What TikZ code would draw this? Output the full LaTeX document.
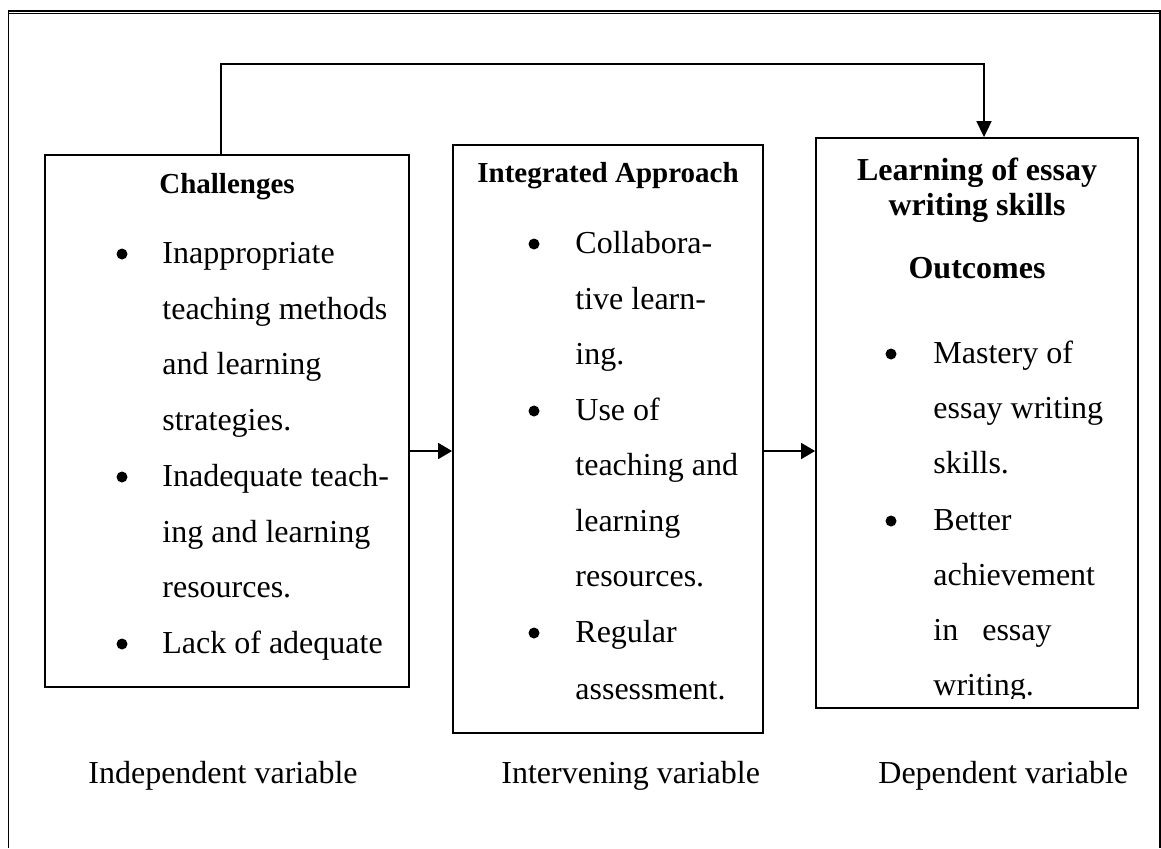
\documentclass[tikz,border=0pt]{standalone}
\usepackage{fontspec}
\setmainfont{Liberation Serif}
\usetikzlibrary{arrows.meta}
\begin{document}
\begin{tikzpicture}[x=0.5pt,y=-0.5pt,
  box/.style={draw, line width=0.9pt, inner sep=0pt},
  conn/.style={line width=0.8pt},
  arr/.style={conn, -{Triangle[length=7pt,width=8pt]}},
  txt/.style={anchor=mid west, inner sep=0pt, yshift=-3pt, font=\fontsize{16}{19}\selectfont},
  blt/.style={circle, fill, inner sep=0pt, yshift=-3pt, minimum size=5.5pt},
  hds/.style={anchor=mid, inner sep=0pt, yshift=-3pt, font=\bfseries\fontsize{14.5}{17}\selectfont},
  hdl/.style={anchor=mid, inner sep=0pt, yshift=-3pt, font=\bfseries\fontsize{16}{19}\selectfont},
  lbl/.style={anchor=mid west, inner sep=0pt, yshift=-3pt, font=\fontsize{16}{19}\selectfont},
]
\useasboundingbox (0,0) rectangle (1161,848);
% outer frame
\draw[line width=1pt] (8,11) -- (1161,11);
\draw[line width=0.5pt] (8,13.8) -- (1161,13.8);
\draw[line width=0.7pt] (8.5,11) -- (8.5,848);
\draw[line width=0.7pt] (1160,11) -- (1160,848);

% boxes
\node[box, minimum width=182pt, minimum height=266pt] (L) at (227,421) {};
\node[box, minimum width=155pt, minimum height=294pt] (M) at (608,439) {};
\node[box, minimum width=161pt, minimum height=285pt] (R) at (977,423) {};

% left box text
\node[hds] (lh) at (227,183) {Challenges};
\node[blt] (lb1) at (122,248) {};
\node[txt] (l1) at (162,253) {Inappropriate};
\node[txt] (l2) at (162,309) {teaching methods};
\node[txt] (l3) at (162,364) {and learning};
\node[txt] (l4) at (162,420) {strategies.};
\node[blt] (lb2) at (122,471) {};
\node[txt] (l5) at (162,476) {Inadequate teach-};
\node[txt] (l6) at (162,532) {ing and learning};
\node[txt] (l7) at (162,587) {resources.};
\node[blt] (lb3) at (122,638) {};
\node[txt] (l8) at (162,643) {Lack of adequate};

% middle box text
\node[hds] (mh) at (608,172) {Integrated Approach};
\node[blt] (mb1) at (534,238) {};
\node[txt] (m1) at (575,243) {Collabora-};
\node[txt] (m2) at (575,299) {tive learn-};
\node[txt] (m3) at (575,354) {ing.};
\node[blt] (mb2) at (534,405) {};
\node[txt] (m4) at (575,410) {Use of};
\node[txt] (m5) at (575,465) {teaching and};
\node[txt] (m6) at (575,521) {learning};
\node[txt] (m7) at (575,576) {resources.};
\node[blt] (mb3) at (534,627) {};
\node[txt] (m8) at (575,632) {Regular};
\node[txt] (m9) at (575,689) {assessment.};

% right box text
\node[hdl] (rh1) at (977,170) {Learning of essay};
\node[hdl] (rh2) at (977,205) {writing skills};
\node[hdl] (rh3) at (977,268) {Outcomes};
\begin{scope}
\clip (816,138) rectangle (1138,698);
\node[blt] (rb1) at (891,348) {};
\node[txt] (r1) at (933,353) {Mastery of};
\node[txt] (r2) at (933,408) {essay writing};
\node[txt] (r3) at (933,463) {skills.};
\node[blt] (rb2) at (891,515) {};
\node[txt] (r4) at (933,520) {Better};
\node[txt] (r5) at (933,575) {achievement};
\node[txt] (r6) at (933,630) {in\hspace{12pt}essay};
\node[txt] (r7) at (933,685) {writing.};
\end{scope}

% labels
\node[lbl] (la) at (88,773) {Independent variable};
\node[lbl] (lb) at (501,773) {Intervening variable};
\node[lbl] (lc) at (878,773) {Dependent variable};

% connectors
\coordinate (ay) at (0,451);
\coordinate (tl) at (221,64);
\coordinate (tr) at (984,64);
\draw[arr] (L.east |- ay) -- (M.west |- ay);
\draw[arr] (M.east |- ay) -- (R.west |- ay);
\draw[conn, -{Triangle[length=8pt,width=7.5pt]}] (L.north -| tl) -- (tl) -- (tr) -- (R.north -| tr);
\end{tikzpicture}
\end{document}
